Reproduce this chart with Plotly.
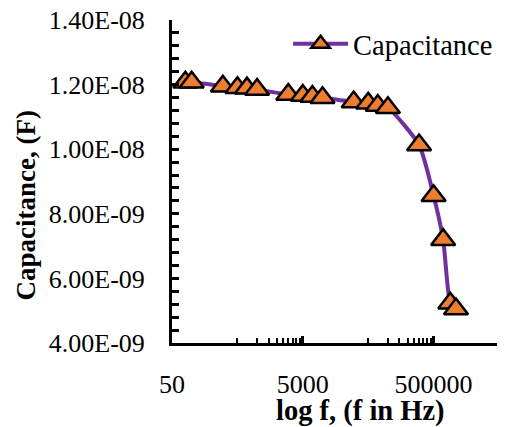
import plotly.graph_objects as go

# ---- data ----
freq_hz = [80, 100, 300, 500, 700, 1000, 3000, 5000, 7000, 10000,
           30000, 50000, 70000, 100000, 300000, 500000, 700000, 900000, 1100000]
capacitance_f = [1.207e-8, 1.207e-8, 1.195e-8, 1.190e-8, 1.189e-8, 1.185e-8,
                 1.169e-8, 1.166e-8, 1.163e-8, 1.159e-8,
                 1.146e-8, 1.142e-8, 1.135e-8, 1.128e-8,
                 1.013e-8, 8.56e-9, 7.20e-9, 5.23e-9, 5.05e-9]

x_tickvals = [50, 5000, 500000]
x_ticktext = ["50", "5000", "500000"]
x_minorvals = [500 * k for k in range(1, 10)] + [50000 * k for k in range(1, 10)]

y_tickvals = [4e-9, 6e-9, 8e-9, 1e-8, 1.2e-8, 1.4e-8]
y_ticktext = ["4.00E-09", "6.00E-09", "8.00E-09", "1.00E-08", "1.20E-08", "1.40E-08"]

series_name = "Capacitance"
x_title = "<b>log f, (f in Hz)</b>"
y_title = "<b>Capacitance, (F)</b>"

FONT = "Liberation Serif"

fig = go.Figure()
fig.add_trace(go.Scatter(
    x=freq_hz, y=capacitance_f, name=series_name, mode="lines+markers",
    line=dict(color="#7030A0", width=4, shape="spline", smoothing=0.6),
    marker=dict(symbol="triangle-up", size=21, color="#ED7D31",
                line=dict(color="black", width=2.5)),
))

axis_common = dict(
    showline=True, linecolor="black", linewidth=3, showgrid=False, zeroline=False,
    ticks="inside", tickcolor="black", tickwidth=2.5, ticklen=7,
    tickfont=dict(family=FONT, size=26, color="black"),
    automargin=False, ticklabeloverflow="allow",
)

fig.update_xaxes(
    type="log", range=[1.69897, 6.69897],
    tickmode="array", tickvals=x_tickvals, ticktext=x_ticktext,
    ticklabelstandoff=16,
    minor=dict(tickmode="array", tickvals=x_minorvals, ticks="inside",
               ticklen=5, tickwidth=2, tickcolor="black", showgrid=False),
    **axis_common,
)
fig.update_yaxes(
    range=[4e-9, 1.4e-8],
    tickmode="array", tickvals=y_tickvals, ticktext=y_ticktext,
    ticklabelstandoff=19,
    minor=dict(tickmode="linear", tick0=4e-9, dtick=4e-10, ticks="inside",
               ticklen=7, tickwidth=2.5, tickcolor="black", showgrid=False),
    **axis_common,
)

fig.update_layout(
    width=497, height=419, autosize=False,
    margin=dict(l=164, r=6, t=12, b=84),
    paper_bgcolor="white", plot_bgcolor="white",
    font=dict(family=FONT, color="black"),
    showlegend=True,
    legend=dict(x=0.355, y=0.925, xanchor="left", yanchor="middle",
                bgcolor="rgba(0,0,0,0)", itemwidth=55,
                font=dict(family=FONT, size=28.5, color="black")),
    annotations=[
        dict(text=x_title, xref="paper", yref="paper", x=0.575, y=-0.21,
             xanchor="center", yanchor="middle", showarrow=False,
             font=dict(family=FONT, size=28.5, color="black")),
        dict(text=y_title, xref="paper", yref="paper", x=-0.445, y=0.427,
             xanchor="center", yanchor="middle", showarrow=False, textangle=-90,
             font=dict(family=FONT, size=27, color="black")),
    ],
)

fig.write_html("out.html")
